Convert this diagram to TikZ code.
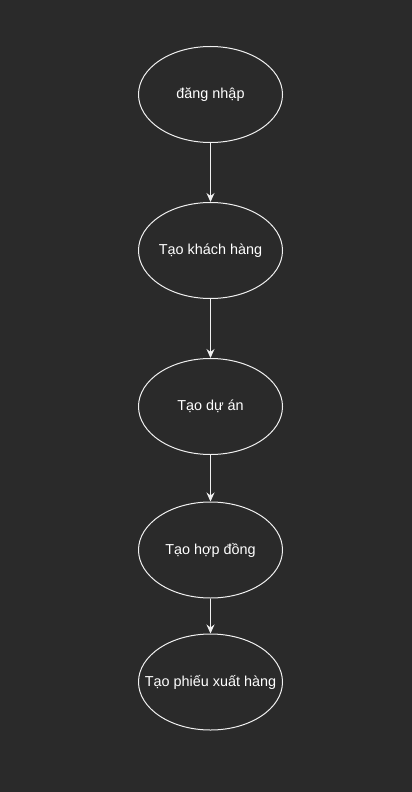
\documentclass[tikz,border=0pt]{standalone}
\usepackage{fontspec}
\setmainfont{Liberation Sans}
\usetikzlibrary{shapes.geometric,arrows.meta}
\definecolor{bg}{HTML}{2A2A2A}
\definecolor{ln}{HTML}{F0F0F0}
\newcommand{\zw}[1]{\makebox[0pt]{#1}}
\begin{document}
\begin{tikzpicture}[x=1pt,y=-1pt,
  stepnode/.style={ellipse,draw=ln,line width=1pt,minimum width=144pt,minimum height=96pt,inner sep=0pt,text=white,font=\fontsize{14.4pt}{16pt}\selectfont},
  conn/.style={draw=ln,line width=1pt,-{Stealth[length=9pt,width=8pt,inset=3pt]}}]
\fill[bg] (0,0) rectangle (412,792);
\useasboundingbox (0,0) rectangle (412,792);
\node[stepnode] (a) at (210.5,94.5) {\zw{đăng nhập}};
\node[stepnode] (b) at (210.5,250.5) {\zw{Tạo khách hàng}};
\node[stepnode] (c) at (210.5,406.5) {\zw{Tạo dự án}};
\node[stepnode] (d) at (210.5,550) {\zw{Tạo hợp đồng}};
\node[stepnode] (e) at (210.5,682) {\zw{Tạo phiếu xuất hàng}};
\draw[conn] (a) -- (b);
\draw[conn] (b) -- (c);
\draw[conn] (c) -- (d);
\draw[conn] (d) -- (e);
\end{tikzpicture}
\end{document}
